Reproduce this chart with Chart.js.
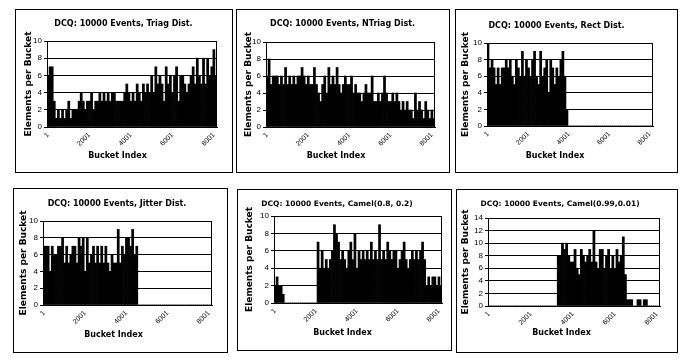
<!DOCTYPE html>
<html>
<head>
<meta charset="utf-8">
<title>DCQ: 10000 Events - bucket occupancy</title>
<script src="https://cdn.jsdelivr.net/npm/chart.js@4.4.0/dist/chart.umd.min.js"></script>
<style>
  html, body { margin: 0; padding: 0; background: #fff; }
  body { position: relative; width: 681px; height: 364px; overflow: hidden; }
  .panel { position: absolute; border: 1px solid #000; box-sizing: border-box; background: #fff; }
  .panel canvas { display: block; }
</style>
</head>
<body>
<script>
// each bar stands for 100 buckets; the category is the first bucket index
const bucketStarts = Array.from({ length: 82 }, (_, i) => i * 100 + 1);
const xTickLabels = ['1', '2001', '4001', '6001', '8001'];

// elements per bucket (one value per 100 buckets)
const triagCounts = [6,7,7,3,1,2,1,2,1,2, 3,1,2,2,2,3,4,3,2,3, 3,4,2,3,3,4,3,4,3,4,
  3,4,4,3,3,3,3,4,5,4, 3,4,3,5,4,3,5,4,5,4, 6,4,7,5,6,5,3,7,5,6, 4,6,7,3,6,6,5,4,5,6,
  7,5,8,6,5,8,5,8,6,7,9,6];
const ntriagCounts = [6,8,5,6,6,6,5,6,5,7, 5,6,5,6,5,6,6,7,6,5, 6,5,5,7,5,4,3,5,6,4,
  7,5,6,5,7,5,4,5,6,5, 5,6,4,5,4,4,3,4,5,4, 4,6,3,3,4,3,4,6,4,3, 3,4,3,4,3,2,3,2,3,2,
  2,1,4,2,3,2,1,3,2,1,2,1];
const rectCounts = [10,7,8,7,5,7,5,7,7,8, 7,8,6,5,8,7,6,9,6,8, 7,6,8,9,6,5,9,6,7,8,
  4,8,7,5,7,6,8,9,6,2, 0,0,0,0,0,0,0,0,0,0, 0,0,0,0,0,0,0,0,0,0, 0,0,0,0,0,0,0,0,0,0,
  0,0,0,0,0,0,0,0,0,0,0,0];
const jitterCounts = [7,7,7,4,7,6,6,7,7,8, 5,7,5,6,7,7,5,8,7,8, 4,8,5,6,7,5,7,5,7,5,
  7,5,4,6,5,5,9,5,7,6, 8,8,7,9,6,7,0,0,0,0, 0,0,0,0,0,0,0,0,0,0, 0,0,0,0,0,0,0,0,0,0,
  0,0,0,0,0,0,0,0,0,0,0,0];
const camel82Counts = [2,3,2,2,1,0,0,0,0,0, 0,0,0,0,0,0,0,0,0,0, 0,7,4,6,4,5,4,5,6,9,
  8,7,5,6,5,4,6,7,5,8, 4,6,5,6,5,6,5,7,5,6, 5,9,5,6,5,7,6,5,6,6, 4,5,6,7,5,4,5,6,5,6,
  5,6,7,5,2,3,2,3,3,2,3,2];
const camel99Counts = [0,0,0,0,0,0,0,0,0,0, 0,0,0,0,0,0,0,0,0,0, 0,0,0,0,0,0,0,0,0,0,
  0,0,0,8,8,10,9,10,8,7, 7,9,6,5,9,8,7,8,9,7, 12,7,6,9,9,6,8,9,6,8, 6,9,7,8,11,5,1,1,1,0,
  0,1,1,0,1,1,0,0,0,0,0,0];

// panel layout in page pixels: box and plot are [left, top, right, bottom]
const panels = [
  { title: 'DCQ: 10000 Events, Triag Dist.', data: triagCounts, yMax: 10, titleSize: 8,
    box: [15, 9, 232, 172], plot: [47, 41, 217, 127], titleAt: [123.5, 24], xTitleAt: [117.5, 156], yTitleX: 28.5 },
  { title: 'DCQ: 10000 Events, NTriag Dist.', data: ntriagCounts, yMax: 10, titleSize: 8,
    box: [236, 9, 449, 172], plot: [266, 42, 435, 127], titleAt: [342.5, 24], xTitleAt: [336, 156], yTitleX: 248.5 },
  { title: 'DCQ: 10000 Events, Rect Dist.', data: rectCounts, yMax: 10, titleSize: 8,
    box: [455, 9, 677, 172], plot: [487, 43, 653, 126], titleAt: [556.5, 26], xTitleAt: [555, 156], yTitleX: 466 },
  { title: 'DCQ: 10000 Events, Jitter Dist.', data: jitterCounts, yMax: 10, titleSize: 8,
    box: [13, 188, 227, 352], plot: [43, 221, 212, 305], titleAt: [117, 204], xTitleAt: [113.5, 335], yTitleX: 23.5 },
  { title: 'DCQ: 10000 Events, Camel(0.8, 0.2)', data: camel82Counts, yMax: 10, titleSize: 7.5,
    box: [237, 189, 451, 350], plot: [274, 216, 444, 303], titleAt: [337, 204], xTitleAt: [342.5, 333], yTitleX: 249.5 },
  { title: 'DCQ: 10000 Events, Camel(0.99,0.01)', data: camel99Counts, yMax: 14, titleSize: 7.5,
    box: [456, 189, 677, 352], plot: [488, 218, 660, 306], titleAt: [560, 204], xTitleAt: [561.5, 333], yTitleX: 466 }
];

const titleFamily = '"DejaVu Sans", sans-serif';
const tickFamily = '"Liberation Sans", Arial, sans-serif';

// right edge of the plot frame plus the panel title and x axis title
const panelDecor = {
  id: 'panelDecor',
  afterDraw(chart, args, opts) {
    const { ctx, chartArea: a } = chart;
    ctx.save();
    ctx.strokeStyle = '#000';
    ctx.lineWidth = 1;
    const rx = Math.round(a.right) - 0.5;
    ctx.beginPath();
    ctx.moveTo(rx, Math.round(a.top));
    ctx.lineTo(rx, Math.round(a.bottom));
    ctx.stroke();

    ctx.fillStyle = '#000';
    ctx.textAlign = 'center';
    ctx.textBaseline = 'middle';
    ctx.font = `bold ${opts.titleSize}px ${titleFamily}`;
    ctx.fillText(opts.title, opts.titleX, opts.titleY);
    ctx.font = `bold 8px ${titleFamily}`;
    ctx.fillText('Bucket Index', opts.xTitleX, opts.xTitleY);
    ctx.restore();
  }
};

function buildPanel(p, idx) {
    const [bl, bt, br, bb] = p.box;
    const div = document.createElement('div');
    div.className = 'panel';
    div.style.left = bl + 'px';
    div.style.top = bt + 'px';
    div.style.width = (br - bl + 1) + 'px';
    div.style.height = (bb - bt + 1) + 'px';

    const cL = bl + 1, cT = bt + 1;
    const W = br - bl - 1, H = bb - bt - 1;
    const canvas = document.createElement('canvas');
    canvas.id = 'panel' + idx;
    canvas.width = W;
    canvas.height = H;
    div.appendChild(canvas);
    document.body.appendChild(div);

    const pL = p.plot[0] - cL, pT = p.plot[1] - cT;
    const pR = p.plot[2] - cL, pB = p.plot[3] - cT;
    const yTitleLine = 9 * 1.2;

    return new Chart(canvas.getContext('2d'), {
        type: 'bar',
        data: {
            labels: bucketStarts,
            datasets: [{
                label: p.title,
                data: p.data,
                backgroundColor: '#000',
                borderWidth: 0,
                barPercentage: 1,
                categoryPercentage: 1
            }]
        },
        options: {
            responsive: false,
            animation: false,
            events: [],
            layout: { padding: { left: 0, top: pT, right: W - pR, bottom: 0 } },
            plugins: {
                legend: { display: false },
                tooltip: { enabled: false },
                title: { display: false },
                panelDecor: {
                    title: p.title,
                    titleSize: p.titleSize,
                    titleX: p.titleAt[0] - cL,
                    titleY: p.titleAt[1] - cT,
                    xTitleX: p.xTitleAt[0] - cL,
                    xTitleY: p.xTitleAt[1] - cT
                }
            },
            scales: {
                x: {
                    grid: { display: false, drawTicks: false },
                    border: { display: true, color: '#000', width: 1 },
                    ticks: {
                        autoSkip: false,
                        minRotation: 45,
                        maxRotation: 45,
                        padding: 4,
                        color: '#000',
                        font: { family: tickFamily, size: 7 },
                        callback: (v, i) => (i % 20 === 0 ? xTickLabels[i / 20] : '')
                    },
                    afterFit: (s) => { s.height = H - pB; }
                },
                y: {
                    min: 0,
                    max: p.yMax,
                    ticks: {
                        stepSize: 2,
                        autoSkip: false,
                        padding: 2,
                        color: '#000',
                        font: { family: tickFamily, size: 8 }
                    },
                    grid: { color: '#000', lineWidth: 1, tickLength: 3, drawTicks: true },
                    border: { display: true, color: '#000', width: 1 },
                    title: {
                        display: true,
                        text: 'Elements per Bucket',
                        color: '#000',
                        font: { family: titleFamily, size: 9, weight: 'bold' },
                        padding: { top: p.yTitleX - cL - yTitleLine / 2, bottom: 0 }
                    },
                    afterFit: (s) => { s.width = pL; }
                }
            }
        },
        plugins: [panelDecor]
    });
}

panels.forEach(buildPanel);
</script>
</body>
</html>
